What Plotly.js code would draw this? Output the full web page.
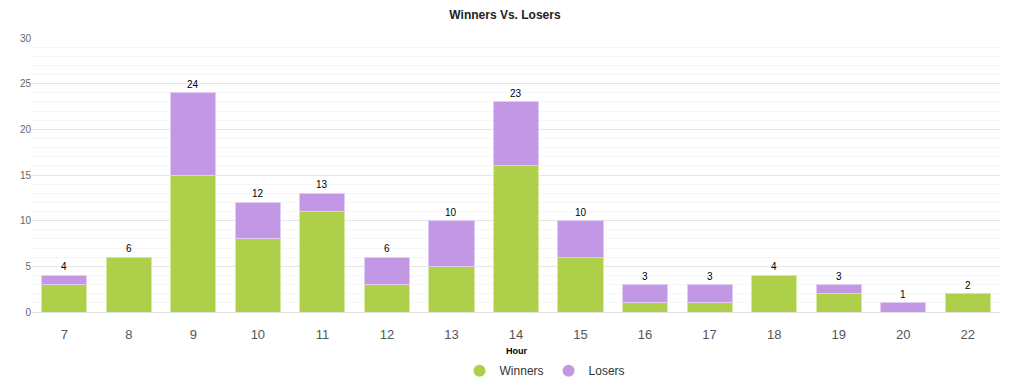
<!DOCTYPE html>
<html>
<head>
<meta charset="utf-8">
<script src="https://cdn.plot.ly/plotly-3.0.1.min.js"></script>
<style>html,body{margin:0;padding:0;background:#fff;}#chart{width:1010px;height:387px;}</style>
</head>
<body>
<div id="chart"></div>
<script>
const hours = ["7","8","9","10","11","12","13","14","15","16","17","18","19","20","22"];
const winners = [3,6,15,8,11,3,5,16,6,1,1,4,2,0,2];
const losers  = [1,0,9,4,2,3,5,7,4,2,2,0,1,1,0];
const yTicks = [0,5,10,15,20,25,30];

const green = "rgb(174,207,74)";
const purple = "rgb(194,152,228)";
const totals = hours.map((h,i)=>winners[i]+losers[i]);

const traces = [
  {type:"bar", x:hours, y:winners, name:"Winners", showlegend:false,
   marker:{color:green, line:{color:"rgba(215,235,160,1)", width:1}}},
  {type:"bar", x:hours, y:losers, name:"Losers", showlegend:false,
   marker:{color:purple, line:{color:"rgba(225,205,242,1)", width:1}}},
  {type:"scatter", mode:"markers", x:[null], y:[null], name:"Winners", showlegend:true,
   marker:{color:green, size:12, symbol:"circle"}},
  {type:"scatter", mode:"markers", x:[null], y:[null], name:"Losers", showlegend:true,
   marker:{color:purple, size:12, symbol:"circle"}}
];

const annotations = hours.map((h,i)=>({
  x:i, y:totals[i], text:String(totals[i]), showarrow:false,
  yanchor:"bottom", yshift:1, font:{family:"Liberation Sans, Arial, sans-serif", size:10, color:"#000"}
}));
annotations.push({
  xref:"paper", yref:"paper", x:0.5, y:0, yshift:-39, yanchor:"middle", text:"<b>Hour</b>", showarrow:false,
  font:{family:"Liberation Sans, Arial, sans-serif", size:9, color:"#000"}
});

const layout = {
  width:1010, height:387,
  margin:{l:32, r:10, t:38, b:75, autoexpand:false},
  paper_bgcolor:"#fff", plot_bgcolor:"#fff",
  barmode:"stack", bargap:0.3,
  font:{family:"Liberation Sans, Arial, sans-serif", color:"#555"},
  title:{text:"<b>Winners Vs. Losers</b>", x:0.5, xanchor:"center", y:1, yanchor:"top", pad:{t:11},
         font:{size:12, color:"#222"}},
  xaxis:{type:"category", range:[-0.5,14.5], showgrid:false, tickfont:{size:13, color:"#555"}, ticks:"",
         showline:true, linecolor:"#e0e0e0", linewidth:1, ticklabelstandoff:10, fixedrange:true},
  yaxis:{range:[0,30], tickvals:yTicks, tickfont:{size:10, color:"#666"},
         showgrid:true, gridcolor:"#e6e6e6", zeroline:false, ticks:"", fixedrange:true,
         minor:{dtick:1, showgrid:true, gridcolor:"#f6f6f6"}},
  legend:{orientation:"h", x:0.53, xanchor:"center", yref:"container", y:0.042, yanchor:"middle",
          font:{size:12, color:"#333"}, traceorder:"normal", itemwidth:30},
  annotations:annotations,
  showlegend:true
};

Plotly.newPlot("chart", traces, layout, {displayModeBar:false, staticPlot:true});
</script>
</body>
</html>
